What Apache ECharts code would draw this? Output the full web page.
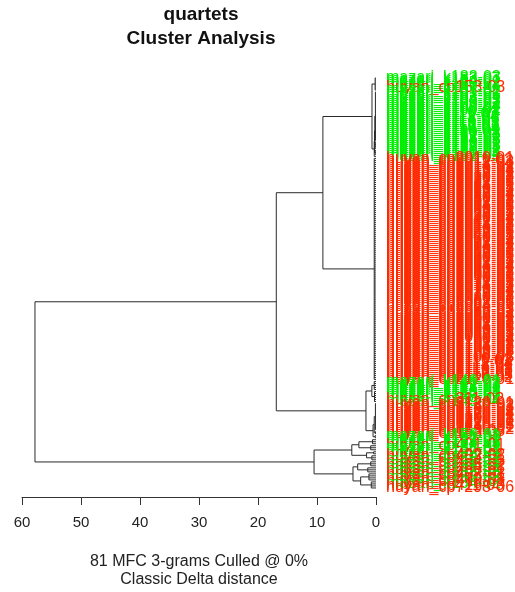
<!DOCTYPE html>
<html><head><meta charset="utf-8">
<script src="https://cdn.jsdelivr.net/npm/echarts@6/dist/echarts.min.js"></script>
<style>html,body{margin:0;padding:0;background:#fff}#c{width:515px;height:592px}</style>
</head><body><div id="c"></div>
<script>
// ---- data ----
const titleLines = ['quartets', 'Cluster Analysis'];
const subtitleLines = ['81 MFC 3-grams Culled @ 0%', 'Classic Delta distance'];
const xTicks = [0, 10, 20, 30, 40, 50, 60];

// leaf labels, top to bottom (m = mazari_k, h = huyan_cp)
const labelPrefix = { m: 'mazari_k', h: 'huyan_cp' };
const labelColor = { m: '#00ee00', h: '#ff2a00' };
const leafCodes = (
  'm183-03 m183-07 m184-01 m185-02 m186-04 h153-03 m187-01 ' +
  'm101-01 m101-02 m102-05 m103-01 m104-03 m105-02 m106-01 m107-04 m108-02 m109-01 m110-03 m111-02 m112-01 ' +
  'm113-05 m114-02 m115-01 m116-03 m117-02 m118-04 m119-01 m120-02 m121-03 m122-01 m123-02 m124-05 ' +
  'm125-01 m126-02 m127-03 m128-01 ' +
  'm129-02 m130-01 m131-04 ' +
  'm132-03 ' +
  'h2010-01 h2011-02 h2012-03 h2013-01 h2014-02 h2015-01 h2016-04 h2017-02 h2018-01 h2019-03 ' +
  'h2020-02 h2021-01 h2022-05 h2023-02 h2024-01 h2025-03 h2026-02 h2027-01 h2028-04 h2029-02 ' +
  'h2030-01 h2031-03 h2032-02 h2033-01 h2034-05 h2035-02 h2036-01 h2037-03 h2038-02 h2039-01 ' +
  'h2040-04 h2041-02 h2042-01 h2043-03 h2044-02 h2045-01 h2046-05 h2047-02 h2048-01 h2049-03 ' +
  'h2050-02 h2051-01 h2052-04 h2053-02 h2054-01 h2055-03 h2056-02 h2057-01 h2058-05 h2059-02 ' +
  'h2060-01 h2061-03 h2062-02 h2063-01 h2064-04 h2065-02 h2066-01 h2067-03 h2068-02 h2069-01 ' +
  'h2070-05 h2071-02 h2072-01 h2073-03 h2074-02 h2075-01 h2076-04 h2077-02 h2078-01 h2079-03 ' +
  'h2080-02 h2081-01 h2082-05 h2083-02 h2084-01 h2085-03 h2086-02 h2087-01 h2088-04 h2089-02 ' +
  'h2090-01 h2091-03 h2092-02 h2093-01 h2094-05 h2095-02 h2096-01 h2097-03 h2098-02 h2099-01 ' +
  'h2100-04 h2101-02 h2102-01 h2103-03 h2104-02 h2105-01 h2106-05 h2107-02 h2108-01 h2109-03 ' +
  'h2110-02 h2111-01 h2112-04 h2113-02 h2114-01 h2115-03 h2116-02 h2117-01 h2118-05 h2119-02 h2120-01 ' +
  'm140-01 m141-02 m142-03 m143-01 m144-02 ' +
  'm145-01 m146-03 m147-02 m148-01 h311-02 m149-04 ' +
  'h3120-01 h3130-02 h3140-03 h3150-01 h3160-02 h3170-04 h3180-01 h3190-02 h3200-03 h3210-01 h3220-02 h3230-05 h3240-01 h3250-02 ' +
  'h153-05 h153-07 ' +
  'm150-01 m151-02 ' +
  'm152-01 m153-02 m154-03 ' +
  'h401-01 m155-02 m156-01 ' +
  'm157-03 m158-01 ' +
  'h402-02 h403-01 m159-02 ' +
  'h404-03 m160-01 h405-02 ' +
  'm161-02 h406-01 m162-03 ' +
  'h407-02 h408-01 m163-02 h409-03 ' +
  'h410-01 m164-02 h411-03 h7298-06'
).split(/\s+/).filter(Boolean);

// flat leaf groups (in leaf order) and the height at which each group's leaves join
const groupSizes   = [7, 25, 4, 3, 1, 111, 5, 6, 14, 2, 2, 3, 3, 2, 3, 3, 3, 4, 4];
const groupHeights = [0.15, 0.1, 0.15, 0.15, 0, 0.3, 0.3, 0.25, 0.1, 0.1, 0.15, 0.6, 0.9, 0.4, 0.7, 0.9, 1.4, 1.2, 0.8];

// merges, hclust style: negative = group number, positive = earlier merge row
const mergeLeft    = [-2, 1, 2, -1, 4, -7, -9, 7, 6, 5, -12, -14, 11, -16, -18, 14, 13, 10];
const mergeRight   = [-3, -4, -5, 3, -6, -8, -10, -11, 8, 9, -13, -15, 12, -17, -19, 15, 16, 17];
const mergeHeights = [0.2, 0.25, 0.3, 0.68, 9.0, 0.7, 0.3, 0.5, 1.7, 16.9, 2.9, 1.6, 4.1, 3.1, 2.6, 3.9, 10.5, 57.8];

// ---- build dendrogram segments from the tree ----
const nLeaves = leafCodes.length;
const groups = [];
let next = 1;
groupSizes.forEach((n, g) => {
  const first = next, last = next + n - 1;
  next += n;
  groups.push({ first, last, pos: (first + last) / 2, h: groupHeights[g] });
});
const segs = [];
groups.forEach(g => {
  if (g.h > 0) {
    for (let i = g.first; i <= g.last; i++) segs.push([0, i, g.h, i]);
    if (g.last > g.first) segs.push([g.h, g.first, g.h, g.last]);
  }
});
const nodes = [];
const getNode = k => (k < 0 ? groups[-k - 1] : nodes[k - 1]);
mergeLeft.forEach((a, i) => {
  const A = getNode(a), B = getNode(mergeRight[i]), h = mergeHeights[i];
  segs.push([A.h, A.pos, h, A.pos]);
  segs.push([B.h, B.pos, h, B.pos]);
  segs.push([h, A.pos, h, B.pos]);
  nodes.push({ pos: (A.pos + B.pos) / 2, h });
});
const leafData = leafCodes.map((c, i) => [0, i + 1]);

const chart = echarts.init(document.getElementById('c'), null, { renderer: 'canvas' });
const FONT = '"Liberation Sans", Arial, sans-serif';
chart.setOption({
  animation: false,
  backgroundColor: '#fff',
  grid: { left: 22, right: 139, top: 78, bottom: 95 },
  xAxis: {
    type: 'value', min: 0, max: 60, interval: 10, inverse: true,
    axisLine: { show: true, onZero: false, lineStyle: { color: '#333', width: 1 } },
    axisTick: { show: true, length: 8, lineStyle: { color: '#333', width: 1 } },
    axisLabel: { fontSize: 15, color: '#222', margin: 18, fontFamily: FONT,
      formatter: v => (xTicks.indexOf(v) >= 0 ? String(v) : '') },
    splitLine: { show: false }
  },
  yAxis: { type: 'value', inverse: true, min: 1, max: nLeaves + 4.5, show: false },
  series: [
    {
      type: 'custom', clip: false, data: segs,
      encode: { x: [0, 2], y: [1, 3] },
      renderItem: (params, api) => {
        const p1 = api.coord([api.value(0), api.value(1)]);
        const p2 = api.coord([api.value(2), api.value(3)]);
        return { type: 'line', shape: { x1: p1[0], y1: p1[1], x2: p2[0], y2: p2[1] },
          style: { stroke: '#2a2a2a', lineWidth: 1 } };
      }
    },
    {
      type: 'custom', clip: false, data: leafData,
      encode: { x: 0, y: 1 },
      renderItem: (params, api) => {
        const p = api.coord([api.value(0), api.value(1)]);
        const code = leafCodes[params.dataIndex];
        const k = code.charAt(0);
        return { type: 'text', x: p[0] + 10, y: p[1],
          style: { text: labelPrefix[k] + code.slice(1), fill: labelColor[k],
            fontSize: 16, fontFamily: FONT, align: 'left', verticalAlign: 'middle' } };
      }
    }
  ],
  graphic: [
    { type: 'text', x: 201, y: 15, style: { text: titleLines[0], font: 'bold 19px ' + FONT, fill: '#111', align: 'center', verticalAlign: 'middle' } },
    { type: 'text', x: 201, y: 39, style: { text: titleLines[1], font: 'bold 19px ' + FONT, fill: '#111', align: 'center', verticalAlign: 'middle' } },
    { type: 'text', x: 199, y: 562, style: { text: subtitleLines[0], font: '16px ' + FONT, fill: '#222', align: 'center', verticalAlign: 'middle' } },
    { type: 'text', x: 199, y: 580, style: { text: subtitleLines[1], font: '16px ' + FONT, fill: '#222', align: 'center', verticalAlign: 'middle' } }
  ]
});
</script></body></html>
